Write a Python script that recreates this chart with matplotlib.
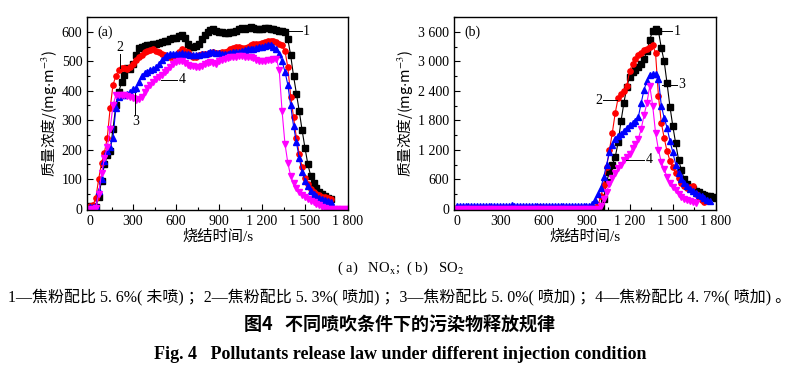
import numpy as np
import matplotlib
matplotlib.use("Agg")
import matplotlib.pyplot as plt
from matplotlib.ticker import AutoMinorLocator

plt.rcParams['font.family'] = ['Liberation Serif', 'Noto Sans CJK SC']
plt.rcParams['mathtext.fontset'] = 'stix'
cjk = ['Noto Sans CJK SC', 'Liberation Serif']
mixed = ['Liberation Serif', 'Noto Sans CJK SC']

# sampling times (s)
t_a = np.arange(0, 1681, 20)
t_a4 = np.arange(0, 1801, 20)
t_b1 = np.arange(0, 1801, 20)
t_b2 = np.arange(0, 1721, 20)
t_b3 = np.arange(0, 1761, 20)
t_b4 = np.arange(0, 1661, 20)

# (a) NOx, mg/m3
nox_1 = [10, 5, 5, 40, 95, 150, 180, 195, 270, 350,
         395, 430, 455, 478, 475, 490, 520, 545, 550, 552,
         555, 555, 558, 560, 562, 565, 568, 570, 575, 578,
         580, 585, 590, 578, 560, 550, 548, 552, 558, 575,
         590, 600, 605, 608, 604, 600, 598, 596, 595, 598,
         600, 604, 608, 612, 608, 612, 615, 612, 608, 610,
         610, 612, 612, 608, 608, 606, 604, 602, 598, 575,
         520, 450, 390, 330, 265, 205, 150, 110, 85, 68,
         56, 48, 42, 36, 32]
nox_2 = [10, 12, 35, 100, 155, 190, 240, 340, 420, 450,
         470, 478, 478, 475, 480, 490, 505, 515, 520, 530,
         535, 538, 540, 535, 530, 525, 520, 515, 515, 515,
         520, 530, 540, 535, 530, 520, 515, 515, 520, 525,
         525, 525, 528, 530, 528, 528, 530, 532, 535, 540,
         545, 550, 548, 545, 545, 550, 555, 558, 560, 560,
         562, 565, 568, 570, 570, 565, 560, 555, 535, 480,
         380, 310, 240, 185, 140, 105, 82, 66, 56, 50,
         45, 40, 38, 35, 33]
nox_3 = [5, 5, 8, 60, 100, 160, 195, 210, 240, 340,
         380, 385, 385, 390, 395, 405, 410, 430, 450, 460,
         465, 470, 475, 480, 490, 505, 515, 520, 525, 525,
         525, 525, 528, 525, 525, 522, 520, 520, 522, 525,
         525, 528, 530, 530, 528, 528, 525, 525, 525, 528,
         530, 530, 532, 535, 538, 540, 540, 542, 545, 548,
         550, 552, 555, 555, 550, 540, 525, 500, 465, 420,
         350, 280, 225, 170, 125, 95, 75, 60, 50, 43,
         37, 32, 28, 25, 22]
nox_4 = [0, 0, 2, 50, 120, 170, 210, 270, 350, 385,
         385, 385, 385, 382, 380, 375, 370, 372, 380, 395,
         410, 420, 430, 440, 448, 455, 462, 470, 480, 492,
         498, 500, 500, 495, 488, 485, 483, 480, 482, 485,
         490, 495, 498, 495, 490, 500, 505, 508, 512, 515,
         515, 515, 518, 518, 515, 515, 515, 512, 505, 500,
         500, 502, 505, 505, 508, 508, 470, 330, 220, 155,
         110, 85, 68, 56, 47, 40, 33, 27, 21, 16,
         11, 6, 2, 0, 0, 0, 0, 0, 0, 0,
         0]

# (b) SO2, mg/m3
so2_1 = [5, 5, 5, 5, 5, 5, 5, 5, 5, 5,
         5, 5, 5, 5, 5, 5, 5, 5, 5, 5,
         5, 5, 5, 5, 5, 5, 5, 5, 5, 5,
         5, 5, 5, 5, 5, 5, 5, 5, 5, 5,
         5, 5, 5, 5, 5, 5, 5, 5, 5, 10,
         30, 200, 550, 750, 900, 1050, 1350, 1780, 2150, 2470,
         2690, 2780, 2820, 2880, 2950, 3050, 3200, 3440, 3620, 3650,
         3620, 3270, 3000, 2550, 2080, 1680, 1330, 1000, 780, 600,
         500, 450, 410, 370, 335, 310, 285, 265, 250, 230,
         215]
so2_2 = [10, 10, 10, 10, 10, 10, 10, 10, 10, 10,
         10, 10, 10, 10, 10, 10, 10, 10, 10, 10,
         10, 10, 10, 10, 10, 10, 10, 25, 40, 30,
         10, 10, 10, 10, 10, 10, 10, 10, 10, 10,
         10, 10, 10, 10, 10, 10, 10, 10, 20, 80,
         250, 480, 850, 1200, 1550, 1950, 2250, 2330, 2400, 2500,
         2800, 2950, 3050, 3120, 3170, 3220, 3260, 3300, 3330, 3170,
         2300, 1750, 1440, 1170, 980, 850, 730, 620, 530, 460,
         420, 450, 470, 300, 220, 170, 130]
so2_3 = [50, 50, 50, 50, 50, 50, 50, 50, 50, 50,
         50, 50, 50, 50, 50, 50, 50, 50, 50, 70,
         50, 50, 50, 50, 50, 50, 50, 50, 50, 50,
         50, 50, 50, 50, 50, 50, 50, 50, 50, 50,
         50, 50, 50, 50, 50, 50, 60, 100, 180, 300,
         420, 650, 900, 1150, 1300, 1420, 1490, 1530, 1580, 1650,
         1700, 1750, 1780, 1860, 2150, 2420, 2600, 2720, 2740, 2740,
         2650, 2100, 1850, 1650, 1380, 1150, 900, 720, 600, 520,
         460, 400, 360, 320, 280, 250, 210, 180, 150]
so2_4 = [0, 0, 0, 0, 0, 0, 0, 0, 0, 0,
         0, 0, 0, 0, 0, 0, 0, 0, 0, 0,
         0, 0, 0, 0, 0, 0, 0, 0, 0, 0,
         0, 0, 0, 0, 0, 0, 0, 0, 0, 0,
         0, 0, 0, 0, 0, 0, 0, 0, 0, 0,
         50, 200, 350, 500, 620, 720, 820, 900, 1000, 1060,
         1120, 1230, 1320, 1420, 1620, 1900, 2150, 2500, 2100, 1550,
         1200, 950, 800, 650, 530, 450, 380, 300, 240, 200,
         170, 150, 130, 120]

x_ticks = [0, 300, 600, 900, 1200, 1500, 1800]
x_labels = ['0', '300', '600', '900', '1 200', '1 500', '1 800']
ya_ticks = [0, 100, 200, 300, 400, 500, 600]
yb_ticks = [0, 600, 1200, 1800, 2400, 3000, 3600]
yb_labels = ['0', '600', '1 200', '1 800', '2 400', '3 000', '3 600']

colors = ['black', 'red', 'blue', 'magenta']
markers = ['s', 'o', '^', 'v']

fig = plt.figure(figsize=(8, 3.71), dpi=100)
ax1 = fig.add_axes([0.109, 0.434, 0.326, 0.52])
ax2 = fig.add_axes([0.5675, 0.434, 0.3275, 0.52])

for t, y, c, m in zip([t_a, t_a, t_a, t_a4], [nox_1, nox_2, nox_3, nox_4], colors, markers):
    ax1.plot(t, y, color=c, marker=m, ms=3.8, lw=0.8, mec=c)
for t, y, c, m in zip([t_b1, t_b2, t_b3, t_b4], [so2_1, so2_2, so2_3, so2_4], colors, markers):
    ax2.plot(t, y, color=c, marker=m, ms=3.8, lw=0.8, mec=c)

ax1.set_xlim(-20, 1800)
ax1.set_ylim(-5, 650)
ax1.set_yticks(ya_ticks)
ax2.set_xlim(-20, 1800)
ax2.set_ylim(-25, 3900)
ax2.set_yticks(yb_ticks)
ax2.set_yticklabels(yb_labels)

for ax in (ax1, ax2):
    ax.set_xticks(x_ticks)
    ax.set_xticklabels(x_labels)
    ax.xaxis.set_minor_locator(AutoMinorLocator(2))
    ax.yaxis.set_minor_locator(AutoMinorLocator(2))
    ax.tick_params(which='both', direction='in', labelsize=10, width=0.8)
    ax.tick_params(which='major', length=4)
    ax.tick_params(which='minor', length=2)
    ax.set_xlabel('烧结时间/s', family=mixed, fontsize=11, labelpad=1)
    ax.set_ylabel('质量浓度/(mg$\\cdot$m$^{-3}$)', family=cjk, fontsize=10.5, labelpad=2)
    for s in ax.spines.values():
        s.set_linewidth(1.0)

ax1.text(0.04, 0.92, '(a)', transform=ax1.transAxes, fontsize=10, va='center')
ax2.text(0.04, 0.92, '(b)', transform=ax2.transAxes, fontsize=10, va='center')

# curve numbers
ax1.plot([1380, 1480], [603, 603], color='black', lw=0.7)
ax1.text(1510, 600, '1', fontsize=10, ha='center', va='center')
ax1.plot([211, 211], [477, 524], color='black', lw=0.7)
ax1.text(211, 545, '2', fontsize=10, ha='center', va='center')
ax1.plot([315, 315], [319, 392], color='black', lw=0.7)
ax1.text(315, 296, '3', fontsize=10, ha='center', va='center')
ax1.plot([493, 609], [437, 437], color='black', lw=0.7)
ax1.text(644, 437, '4', fontsize=10, ha='center', va='center')

ax2.plot([1414, 1495], [3620, 3620], color='black', lw=0.7)
ax2.text(1530, 3606, '1', fontsize=10, ha='center', va='center')
ax2.plot([1015, 1112], [2220, 2220], color='black', lw=0.7)
ax2.text(985, 2200, '2', fontsize=10, ha='center', va='center')
ax2.plot([1426, 1526], [2522, 2522], color='black', lw=0.7)
ax2.text(1565, 2522, '3', fontsize=10, ha='center', va='center')
ax2.plot([1175, 1300], [1000, 1000], color='black', lw=0.7)
ax2.text(1335, 1000, '4', fontsize=10, ha='center', va='center')

fig.text(0.5, 0.278, '( a)   NO$_{\\mathrm{x}}$;  ( b)   SO$_2$', ha='center', va='center', fontsize=10.5)
fig.text(0.5, 0.199, '1—焦粉配比 5. 6%( 未喷) ；2—焦粉配比 5. 3%( 喷加) ；3—焦粉配比 5. 0%( 喷加) ；4—焦粉配比 4. 7%( 喷加) 。',
         ha='center', va='center', fontsize=11.5)
fig.text(0.5, 0.124, '图4   不同喷吹条件下的污染物释放规律', ha='center', va='center',
         fontsize=13, fontweight='bold', family=cjk)
fig.text(0.5, 0.045, 'Fig. 4   Pollutants release law under different injection condition', ha='center', va='center',
         fontsize=13, fontweight='bold', family=['Liberation Serif'])

fig.savefig('out.png', dpi=100)
